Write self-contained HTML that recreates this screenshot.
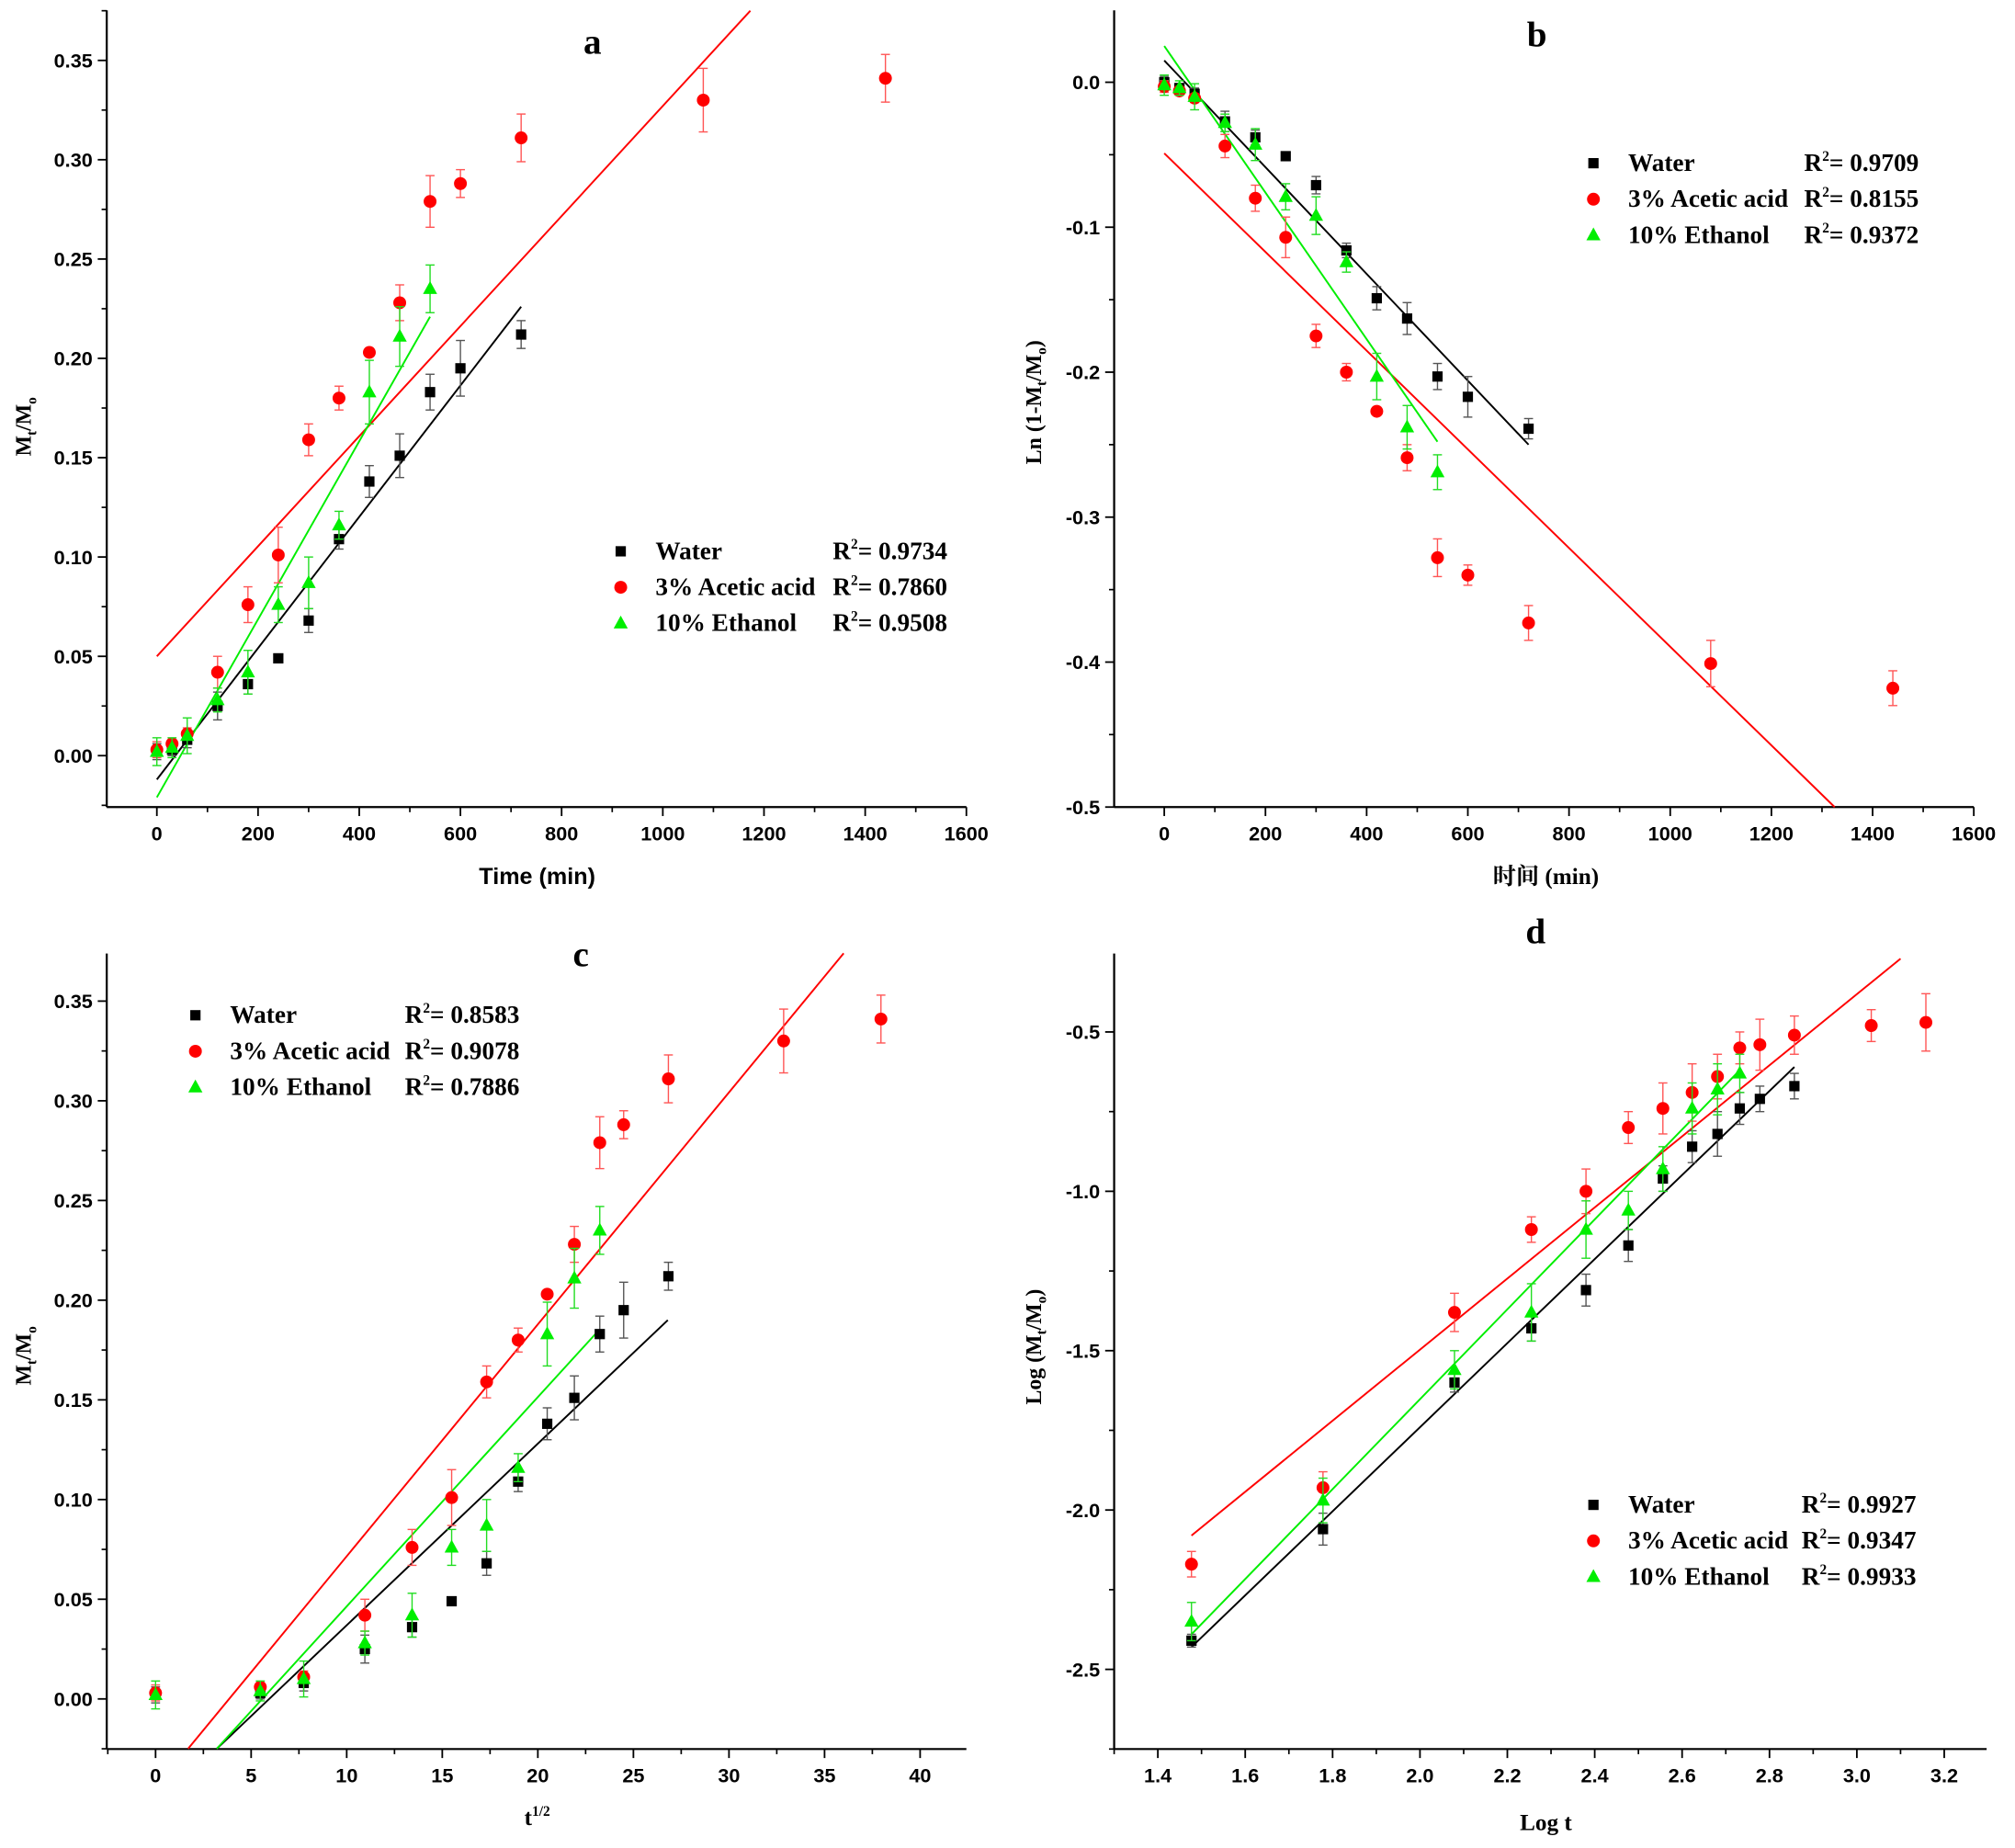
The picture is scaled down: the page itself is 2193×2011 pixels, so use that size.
<!DOCTYPE html>
<html><head><meta charset="utf-8"><style>
html,body{margin:0;padding:0;background:#fff;}
svg{display:block;}
</style></head><body>
<svg id="fig" xmlns="http://www.w3.org/2000/svg" width="2193" height="2011" viewBox="0 0 1568 1438"></svg>
<script>
// ---- data ----
const tAll = [0,30,60,120,180,240,300,360,420,480,540,600,720,1080,1440];
const sqrtT = [0,5.48,7.75,10.95,13.42,15.49,17.32,18.97,20.49,21.91,23.24,24.49,26.83,32.86,37.95];
const logT = [1.477,1.778,2.079,2.255,2.380,2.477,2.556,2.623,2.681,2.732,2.778,2.857,3.033,3.158];
const waterM = [0.002,0.003,0.008,0.025,0.036,0.049,0.068,0.109,0.138,0.151,0.183,0.195,0.212];
const waterE = [0.004,0.003,0.004,0.007,0.005,0.002,0.006,0.005,0.008,0.011,0.009,0.014,0.007];
const acidM = [0.003,0.006,0.011,0.042,0.076,0.101,0.159,0.180,0.203,0.228,0.279,0.288,0.311,0.330,0.341];
const acidE = [0.004,0.002,0.003,0.008,0.009,0.014,0.008,0.006,0.002,0.009,0.013,0.007,0.012,0.016,0.012];
const ethM = [0.002,0.004,0.010,0.028,0.042,0.076,0.087,0.116,0.183,0.211,0.235];
const ethE = [0.007,0.005,0.009,0.006,0.011,0.009,0.013,0.007,0.016,0.015,0.012];
const waterLn = [0,-0.004,-0.008,-0.027,-0.038,-0.051,-0.071,-0.116,-0.149,-0.163,-0.203,-0.217,-0.239];
const acidLn = [-0.003,-0.006,-0.011,-0.044,-0.080,-0.107,-0.175,-0.200,-0.227,-0.259,-0.328,-0.340,-0.373,-0.401,-0.418];
const ethLn = [-0.002,-0.004,-0.010,-0.028,-0.043,-0.079,-0.092,-0.124,-0.203,-0.238,-0.269];
const waterLog = [-2.41,-2.06,-1.60,-1.43,-1.31,-1.17,-0.96,-0.86,-0.82,-0.74,-0.71,-0.67];
const waterLogE = [0.02,0.05,0.03,0.04,0.05,0.05,0.04,0.05,0.07,0.05,0.04,0.04];
const acidLog = [-2.17,-1.93,-1.38,-1.12,-1.00,-0.80,-0.74,-0.69,-0.64,-0.55,-0.54,-0.51,-0.48,-0.47];
const acidLogE = [0.04,0.05,0.06,0.04,0.07,0.05,0.08,0.09,0.07,0.05,0.08,0.06,0.05,0.09];
const ethLog = [-2.35,-1.97,-1.56,-1.38,-1.12,-1.06,-0.93,-0.74,-0.68,-0.63];
const ethLogE = [0.06,0.07,0.06,0.09,0.09,0.06,0.07,0.08,0.08,0.06];
const fitA = {water:[0,-0.012,720,0.226], acid:[0,0.05,1173,0.375], eth:[0,-0.021,540,0.221]};
const fitB = {water:[0,0.015,720,-0.25], acid:[0,-0.049,1325,-0.5], eth:[0,0.025,540,-0.248]};
const fitC = {water:[3.2,-0.025,26.8,0.19], acid:[1.7,-0.025,36,0.374], eth:[3.2,-0.025,23.2,0.185]};
const fitD = {water:[1.477,-2.43,2.857,-0.61], acid:[1.477,-2.08,3.1,-0.27], eth:[1.477,-2.39,2.732,-0.62]};
const r2A = ['0.9734','0.7860','0.9508'];
const r2B = ['0.9709','0.8155','0.9372'];
const r2C = ['0.8583','0.9078','0.7886'];
const r2D = ['0.9927','0.9347','0.9933'];
const ticksA = {x:[0,200,400,600,800,1000,1200,1400,1600], y:[0,0.05,0.10,0.15,0.20,0.25,0.30,0.35]};
const ticksB = {x:[0,200,400,600,800,1000,1200,1400,1600], y:[0,-0.1,-0.2,-0.3,-0.4,-0.5]};
const ticksC = {x:[0,5,10,15,20,25,30,35,40], y:[0,0.05,0.10,0.15,0.20,0.25,0.30,0.35]};
const ticksD = {x:[1.4,1.6,1.8,2.0,2.2,2.4,2.6,2.8,3.0,3.2], y:[-0.5,-1.0,-1.5,-2.0,-2.5]};

const NS='http://www.w3.org/2000/svg';
const svg=document.getElementById('fig');
function mk(tag,attrs,parent){const e=document.createElementNS(NS,tag);for(const k in attrs)e.setAttribute(k,attrs[k]);(parent||svg).appendChild(e);return e;}
const COL={water:'#000000',acid:'#ff0000',eth:'#00ee00'};
const ECOL={water:'#555555',acid:'#ff5555',eth:'#22dd22'};

function panel(cfg){
  const g=mk('g',{});
  
  
  const {L,R,T,B}=cfg;
  const sx=v=>cfg.px0+(v-cfg.vx0)*(cfg.px1-cfg.px0)/(cfg.vx1-cfg.vx0);
  const sy=v=>cfg.py0+(v-cfg.vy0)*(cfg.py1-cfg.py0)/(cfg.vy1-cfg.vy0);
  const ax=mk('line',{x1:L,y1:B,x2:R,y2:B,stroke:'#000','stroke-width':1.6},g);
  
  const ay=mk('line',{x1:L,y1:T,x2:L,y2:B,stroke:'#000','stroke-width':1.6},g);
  
  const xt=cfg.ticks.x, yt=cfg.ticks.y;
  xt.forEach((v,i)=>{const x=sx(v);
    mk('line',{x1:x,y1:B,x2:x,y2:B+7,stroke:'#000','stroke-width':1.3},g);
    if(i<xt.length-1){const xm=sx((v+xt[i+1])/2);mk('line',{x1:xm,y1:B,x2:xm,y2:B+4,stroke:'#000','stroke-width':1.2},g);}
    const t=mk('text',{x:x,y:B+26,'text-anchor':'middle','font-family':'Liberation Sans, sans-serif','font-weight':'bold','font-size':15.5},g);
    t.textContent=cfg.xfmt(v);
    
  });
  const xmL=sx(xt[0]-(xt[1]-xt[0])/2); if(xmL>=L) mk('line',{x1:xmL,y1:B,x2:xmL,y2:B+4,stroke:'#000','stroke-width':1.2},g);
  const xmR=sx(xt[xt.length-1]+(xt[1]-xt[0])/2); if(xmR<=R) mk('line',{x1:xmR,y1:B,x2:xmR,y2:B+4,stroke:'#000','stroke-width':1.2},g);
  yt.forEach((v,i)=>{const y=sy(v);
    mk('line',{x1:L,y1:y,x2:L-7,y2:y,stroke:'#000','stroke-width':1.3},g);
    const t=mk('text',{x:L-11,y:y+5.5,'text-anchor':'end','font-family':'Liberation Sans, sans-serif','font-weight':'bold','font-size':15.5},g);
    t.textContent=cfg.yfmt(v);
    
  });
  const dy=yt[1]-yt[0];
  for(let k=-1;k<yt.length;k++){const ym=sy(yt[0]+dy*(k+0.5));if(ym>=T&&ym<=B)mk('line',{x1:L,y1:ym,x2:L-4,y2:ym,stroke:'#000','stroke-width':1.2},g);}
  ['water','acid','eth'].forEach(s=>{const f=cfg.fit[s];
    const l=mk('line',{x1:sx(f[0]),y1:sy(f[1]),x2:sx(f[2]),y2:sy(f[3]),stroke:COL[s],'stroke-width':1.4},g);
    });
  ['water','acid','eth'].forEach(s=>{const ys=cfg.data[s], es=cfg.err[s], xs=cfg.xs;
    ys.forEach((v,i)=>{const x=sx(xs[i]),y=sy(v),e=es[i];
      const y1=sy(v+e),y2=sy(v-e);
      mk('line',{x1:x,y1:y1,x2:x,y2:y2,stroke:ECOL[s],'stroke-width':1},g);
      mk('line',{x1:x-3.5,y1:y1,x2:x+3.5,y2:y1,stroke:ECOL[s],'stroke-width':1},g);
      mk('line',{x1:x-3.5,y1:y2,x2:x+3.5,y2:y2,stroke:ECOL[s],'stroke-width':1},g);
      let m;
      if(s==='water') m=mk('rect',{x:x-4,y:y-4,width:8,height:8,fill:COL[s]},g);
      else if(s==='acid') m=mk('circle',{cx:x,cy:y,r:5,fill:COL[s]},g);
      else m=mk('polygon',{points:`${x},${y-6} ${x-5.5},${y+4} ${x+5.5},${y+4}`,fill:COL[s]},g);
      
    });
  });
  const names=['Water','3% Acetic acid','10% Ethanol'], keys=['water','acid','eth'];
  const lg=mk('g',{},g);
  keys.forEach((s,i)=>{const x=cfg.lx,y=cfg.ly+i*28;
    if(s==='water') mk('rect',{x:x-4,y:y-4,width:8,height:8,fill:COL[s]},lg);
    else if(s==='acid') mk('circle',{cx:x,cy:y,r:5,fill:COL[s]},lg);
    else mk('polygon',{points:`${x},${y-6} ${x-5.5},${y+4} ${x+5.5},${y+4}`,fill:COL[s]},lg);
    const t=mk('text',{x:x+27,y:y+6,'font-family':'Liberation Serif, serif','font-weight':'bold','font-size':19.5},lg);
    t.textContent=names[i];
    const r=mk('text',{x:cfg.rx,y:y+6,'font-family':'Liberation Serif, serif','font-weight':'bold','font-size':19.5},lg);
    r.innerHTML='R<tspan dy="-8" font-size="11">2</tspan><tspan dy="8">= '+cfg.r2[i]+'</tspan>';
    
  });
  const lt=mk('text',{x:cfg.letX,y:cfg.letY,'text-anchor':'middle','font-family':'Liberation Serif, serif','font-weight':'bold','font-size':28},g);
  lt.textContent=cfg.id;
  const xl=mk('text',{x:cfg.xlX,y:cfg.xlY,'text-anchor':'middle','font-family':cfg.xlFont,'font-weight':'bold','font-size':18},g);
  xl.innerHTML=cfg.xlabel;
  const yl=mk('text',{x:0,y:0,'text-anchor':'middle','font-family':'Liberation Serif, serif','font-weight':'bold','font-size':17,transform:`translate(${cfg.ylX},${cfg.ylY}) rotate(-90)`},g);
  yl.innerHTML=cfg.ylabel;
}
const f2=v=>v.toFixed(2), f1=v=>v.toFixed(1), f0=v=>String(Math.round(v));
const yMt='M<tspan dy="4" font-size="11">t</tspan><tspan dy="-4">/M</tspan><tspan dy="4" font-size="11">o</tspan>';
panel({id:'a',L:83,R:752,T:8,B:628,px0:122,px1:752,vx0:0,vx1:1600,py0:588,py1:47,vy0:0,vy1:0.35,
  ticks:ticksA,xfmt:f0,yfmt:f2,xs:tAll,data:{water:waterM,acid:acidM,eth:ethM},err:{water:waterE,acid:acidE,eth:ethE},
  fit:fitA,r2:r2A,lx:483,ly:429,rx:648,letX:461,letY:42,xlX:418,xlY:688,xlFont:'Liberation Sans, sans-serif',xlabel:'Time (min)',ylX:24,ylY:332,ylabel:yMt});
panel({id:'b',L:867,R:1536,T:8,B:628,px0:906,px1:1536,vx0:0,vx1:1600,py0:64,py1:628,vy0:0,vy1:-0.5,
  ticks:ticksB,xfmt:f0,yfmt:f1,xs:tAll,data:{water:waterLn,acid:acidLn,eth:ethLn},err:{water:waterE,acid:acidE,eth:ethE},
  fit:fitB,r2:r2B,lx:1240,ly:127,rx:1404,letX:1196,letY:36,xlX:1203,xlY:688,xlFont:'Liberation Serif, "Noto Serif CJK SC", serif',xlabel:'时间 (min)',ylX:810,ylY:313,
  ylabel:'Ln (1-M<tspan dy="4" font-size="11">t</tspan><tspan dy="-4">/M</tspan><tspan dy="4" font-size="11">o</tspan><tspan dy="-4">)</tspan>'});
panel({id:'c',L:83,R:752,T:742,B:1361,px0:121,px1:716,vx0:0,vx1:40,py0:1322,py1:779,vy0:0,vy1:0.35,
  ticks:ticksC,xfmt:f0,yfmt:f2,xs:sqrtT,data:{water:waterM,acid:acidM,eth:ethM},err:{water:waterE,acid:acidE,eth:ethE},
  fit:fitC,r2:r2C,lx:152,ly:790,rx:315,letX:452,letY:752,xlX:418,xlY:1420,xlFont:'Liberation Serif, serif',
  xlabel:'t<tspan dy="-7" font-size="11">1/2</tspan>',ylX:24,ylY:1055,ylabel:yMt});
panel({id:'d',L:867,R:1546,T:742,B:1361,px0:901,px1:1513,vx0:1.4,vx1:3.2,py0:803,py1:1299,vy0:-0.5,vy1:-2.5,
  ticks:ticksD,xfmt:f1,yfmt:f1,xs:logT,data:{water:waterLog,acid:acidLog,eth:ethLog},err:{water:waterLogE,acid:acidLogE,eth:ethLogE},
  fit:fitD,r2:r2D,lx:1240,ly:1171,rx:1402,letX:1195,letY:734,xlX:1203,xlY:1424,xlFont:'Liberation Serif, serif',xlabel:'Log t',ylX:810,ylY:1048,
  ylabel:'Log (M<tspan dy="4" font-size="11">t</tspan><tspan dy="-4">/M</tspan><tspan dy="4" font-size="11">o</tspan><tspan dy="-4">)</tspan>'});
</script>
</body></html>
